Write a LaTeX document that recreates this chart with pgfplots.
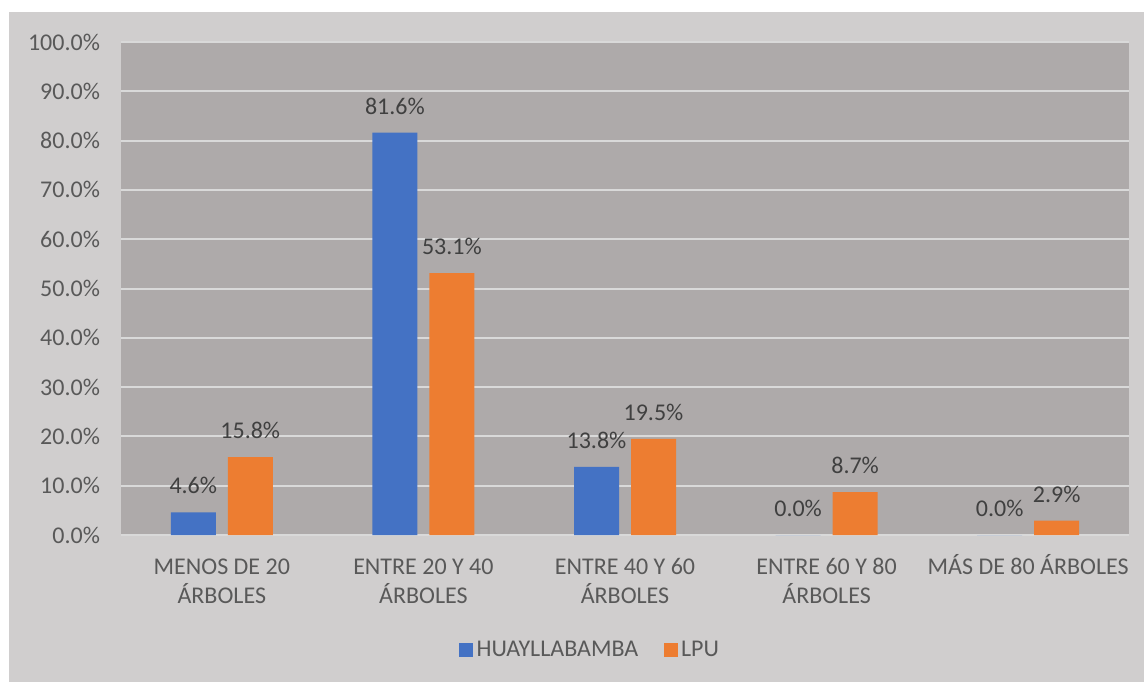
\documentclass[border=0pt]{standalone}
\usepackage{fontspec}
\setmainfont{Carlito}
\usepackage{pgfplots}
\pgfplotsset{compat=1.18}
\definecolor{barblue}{HTML}{4472C4}
\definecolor{barorange}{HTML}{ED7D31}
\definecolor{outergray}{HTML}{D0CECE}
\definecolor{plotgray}{HTML}{AEAAAA}
\definecolor{gridc}{HTML}{D9D9D9}
\definecolor{ticktext}{HTML}{595959}
\definecolor{labeltext}{HTML}{404040}
\begin{document}
\begin{tikzpicture}
\useasboundingbox (-60.5pt,-73.5pt) rectangle (511.5pt,267.5pt);
\fill[white] (-60.5pt,-73.5pt) rectangle (511.5pt,267.5pt);
\fill[outergray] (-56pt,-73.5pt) rectangle (511.5pt,261.5pt);
\begin{axis}[
  at={(0pt,0pt)}, anchor=south west,
  scale only axis,
  width=504pt, height=246.5pt,
  ybar=6pt, bar width=22.5pt,
  xmin=-0.5, xmax=4.5, ymin=0, ymax=100,
  xtick={0,1,2,3,4},
  xticklabels={{\strut MENOS DE 20\\ÁRBOLES},{\strut ENTRE 20 Y 40\\ÁRBOLES},{\strut ENTRE 40 Y 60\\ÁRBOLES},{\strut ENTRE 60 Y 80\\ÁRBOLES},{\strut MÁS DE 80 ÁRBOLES}},
  ytick={0,10,...,100},
  yticklabel={\pgfmathprintnumber[fixed,fixed zerofill,precision=1]{\tick}\%},
  /pgf/number format/assume math mode=true,
  major tick length=0pt,
  axis line style={draw=none},
  axis background/.style={fill=plotgray},
  ymajorgrids, major grid style={draw=gridc, line width=1pt},
  font=\fontsize{12}{14.5}\selectfont,
  xticklabel style={align=center, inner sep=0pt, yshift=-9.35pt, text=ticktext, font=\fontsize{12}{14.5}\selectfont},
  yticklabel style={text=ticktext, xshift=-7pt, font=\fontsize{12}{14.5}\selectfont},
  nodes near coords={\pgfmathprintnumber[fixed,fixed zerofill,precision=1]{\pgfplotspointmeta}\%},
  every node near coord/.append style={inner sep=0pt, text depth=0pt, yshift=9pt, text=labeltext, font=\fontsize{12}{14.5}\selectfont},
  legend style={at={(axis description cs:0.466,-0.233)}, anchor=center, draw=none, fill=none,
    legend columns=-1, font=\fontsize{12}{14.5}\selectfont, text=ticktext,
    /tikz/every even column/.append style={column sep=11pt},
    nodes={inner sep=1.7pt}},
  legend image code/.code={\fill[#1] (0pt,-3.5pt) rectangle (7pt,3.5pt);},
]
\addplot[fill=barblue, draw=none] coordinates {(0,4.6) (1,81.6) (2,13.8) (3,0.0) (4,0.0)};
\addplot[fill=barorange, draw=none] coordinates {(0,15.8) (1,53.1) (2,19.5) (3,8.7) (4,2.9)};
\legend{HUAYLLABAMBA, LPU}
\end{axis}
\end{tikzpicture}
\end{document}
